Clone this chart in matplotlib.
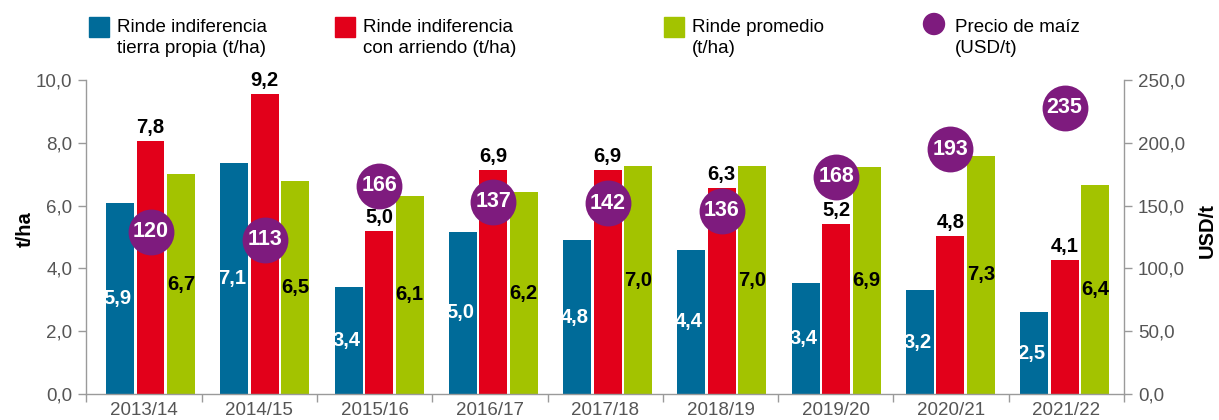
import numpy as np
import matplotlib.pyplot as plt
from matplotlib.patches import Rectangle, Ellipse

plt.rcParams['font.family'] = ['Liberation Sans', 'DejaVu Sans']

seasons = ['2013/14', '2014/15', '2015/16', '2016/17', '2017/18',
           '2018/19', '2019/20', '2020/21', '2021/22']

# alturas de las barras, leidas sobre el eje t/ha
propia = [6.08, 7.37, 3.41, 5.16, 4.90, 4.59, 3.54, 3.31, 2.61]
arriendo = [8.06, 9.55, 5.19, 7.13, 7.13, 6.56, 5.41, 5.03, 4.27]
promedio = [7.00, 6.78, 6.31, 6.43, 7.26, 7.26, 7.23, 7.58, 6.66]

# rotulos impresos sobre las barras
propia_lbl = ['5,9', '7,1', '3,4', '5,0', '4,8', '4,4', '3,4', '3,2', '2,5']
arriendo_lbl = ['7,8', '9,2', '5,0', '6,9', '6,9', '6,3', '5,2', '4,8', '4,1']
promedio_lbl = ['6,7', '6,5', '6,1', '6,2', '7,0', '7,0', '6,9', '7,3', '6,4']

# precio del maiz: valor impreso y altura del circulo sobre el eje USD/t
precio = [120, 113, 166, 137, 142, 136, 168, 193, 235]
precio_marca = [129, 123, 166, 153, 152, 146, 173, 195, 228]

BLUE = '#006b99'
RED = '#e2001a'
GREEN = '#a3c300'
PURPLE = '#7e1b7e'
GRAY = '#9a9a9a'
TICK = '#555555'

W, H = 1219, 420
fig = plt.figure(figsize=(W / 100, H / 100), dpi=100)
ax = fig.add_axes([86.4 / W, 1 - 394 / H, (1124 - 86.4) / W, 314 / H])

x = np.arange(len(seasons))
w = 0.245
step = 0.267

ax.bar(x - step, propia, w, color=BLUE, zorder=2)
ax.bar(x, arriendo, w, color=RED, zorder=2)
ax.bar(x + step, promedio, w, color=GREEN, zorder=2)

for i in range(len(seasons)):
    ax.text(x[i] - step - 0.02, propia[i] / 2, propia_lbl[i], ha='center', va='center',
            color='white', fontsize=14.5, fontweight='bold', zorder=3)
    ax.text(x[i] + step, promedio[i] / 2, promedio_lbl[i], ha='center', va='center',
            color='black', fontsize=14.5, fontweight='bold', zorder=3)
    ax.annotate(arriendo_lbl[i], (x[i], arriendo[i]), xytext=(0, 3),
                textcoords='offset points', ha='center', va='bottom',
                color='black', fontsize=14.5, fontweight='bold', zorder=3)

xl, xr = -0.561, 8.52
ax.set_xlim(xl, xr)
ax.set_ylim(0, 10)
seps = np.linspace(xl, xr, len(seasons) + 1)
ax.set_xticks((seps[:-1] + seps[1:]) / 2)
ax.set_xticklabels(seasons)
ax.set_xticks(seps, minor=True)
ax.tick_params(axis='x', which='major', length=0, pad=6, labelsize=13.5, labelcolor=TICK)
ax.tick_params(axis='x', which='minor', length=6, width=1, color=GRAY)

ax.set_yticks(np.arange(0, 10.1, 2))
ax.set_yticklabels([f'{v:.1f}'.replace('.', ',') for v in np.arange(0, 10.1, 2)])
ax.tick_params(axis='y', length=6, width=1, color=GRAY, pad=4, labelsize=13.5, labelcolor=TICK)

for s in ['top', 'right']:
    ax.spines[s].set_visible(False)
for s in ['left', 'bottom']:
    ax.spines[s].set_color(GRAY)
    ax.spines[s].set_linewidth(1)

ax2 = ax.twinx()
ax2.set_ylim(0, 250)
ax2.set_yticks(np.arange(0, 251, 50))
ax2.set_yticklabels([f'{v:.1f}'.replace('.', ',') for v in np.arange(0, 251, 50)])
ax2.tick_params(axis='y', length=6, width=1, color=GRAY, pad=4, labelsize=13.5, labelcolor=TICK)
for s in ['top', 'left', 'bottom']:
    ax2.spines[s].set_visible(False)
ax2.spines['right'].set_color(GRAY)
ax2.spines['right'].set_linewidth(1)

ax2.scatter(x, precio_marca, s=1090, color=PURPLE, linewidths=0, zorder=4)
for i in range(len(seasons)):
    ax2.text(x[i], precio_marca[i], str(precio[i]), ha='center', va='center',
             color='white', fontsize=15.5, fontweight='bold', zorder=5)

fig.text(25 / W, 1 - 229 / H, 't/ha', rotation=90, ha='center', va='center',
         fontsize=14.5, fontweight='bold')
fig.text(1207 / W, 1 - 231 / H, 'USD/t', rotation=90, ha='center', va='center',
         fontsize=14.5, fontweight='bold')

# leyenda
entries = [
    (89, BLUE, 's', 'Rinde indiferencia', 'tierra propia (t/ha)'),
    (335, RED, 's', 'Rinde indiferencia', 'con arriendo (t/ha)'),
    (664, GREEN, 's', 'Rinde promedio', '(t/ha)'),
    (923, PURPLE, 'o', 'Precio de maíz', '(USD/t)'),
]
for px, col, kind, l1, l2 in entries:
    if kind == 's':
        fig.add_artist(Rectangle((px / W, 1 - 37 / H), 20 / W, 20 / H,
                                 color=col, transform=fig.transFigure))
        tx = px + 28
    else:
        fig.add_artist(Ellipse(((px + 11) / W, 1 - 24 / H), 21 / W, 21 / H,
                               color=col, transform=fig.transFigure))
        tx = px + 32
    fig.text(tx / W, 1 - 32 / H, l1, fontsize=13.5, va='baseline')
    fig.text(tx / W, 1 - 53 / H, l2, fontsize=13.5, va='baseline')

fig.savefig('out.png', dpi=100)
